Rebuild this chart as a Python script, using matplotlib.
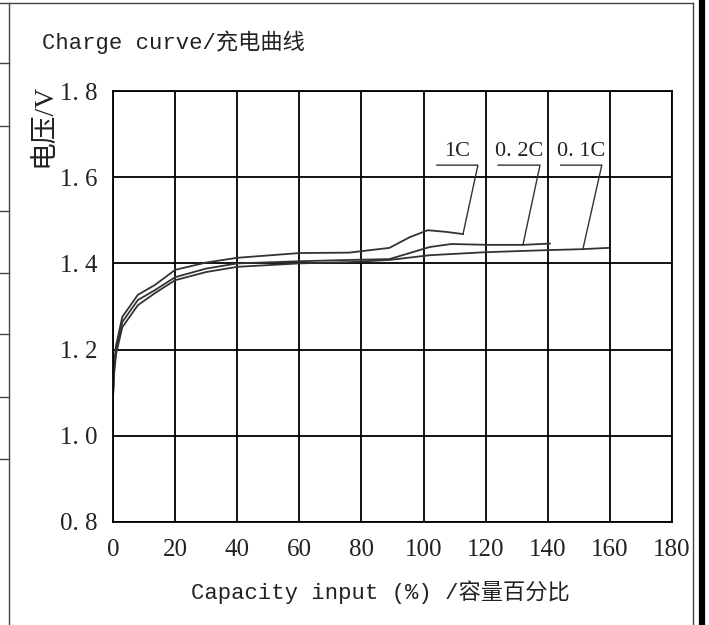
import matplotlib.pyplot as plt
from matplotlib.lines import Line2D

# capacity input (%) and voltage (V)
cap_1c = [0, 0.3, 1, 3, 8, 13.5, 20, 30, 40, 60, 76, 89, 95.6, 101.4, 107.5, 112.7]
volt_1c = [1.09, 1.16, 1.21, 1.276, 1.327, 1.35, 1.385, 1.402, 1.413, 1.424, 1.425,
           1.436, 1.461, 1.477, 1.473, 1.468]

cap_02c = [0, 0.3, 1, 3, 8, 13.5, 20, 30, 40, 60, 76, 89, 102, 109, 121, 132, 140.7]
volt_02c = [1.09, 1.15, 1.2, 1.264, 1.315, 1.338, 1.368, 1.388, 1.40, 1.405, 1.408,
            1.41, 1.438, 1.445, 1.443, 1.443, 1.446]

cap_01c = [0, 0.3, 1, 3, 8, 13.5, 20, 30, 40, 60, 76, 89, 102, 120, 140.7, 151, 159.5]
volt_01c = [1.09, 1.14, 1.19, 1.252, 1.303, 1.331, 1.361, 1.38, 1.392, 1.40, 1.403,
            1.408, 1.419, 1.426, 1.431, 1.433, 1.436]

x_ticks = [0, 20, 40, 60, 80, 100, 120, 140, 160, 180]
y_ticks = [0.8, 1.0, 1.2, 1.4, 1.6, 1.8]
y_labels = ['0. 8', '1. 0', '1. 2', '1. 4', '1. 6', '1. 8']

# label text, underline start/end, curve end the leader points to
labels = ['1C', '0.2C', '0.1C']
label_text = ['1C', '0. 2C', '0. 1C']
line_start = [104.3, 124.0, 144.2]
line_end = [117.5, 137.5, 157.4]
tip_x = [112.7, 132.0, 151.3]
tip_y = [1.468, 1.443, 1.433]
under_y = 1.628

mono = ['Liberation Mono', 'Noto Sans CJK SC']
serif = ['Liberation Serif', 'Noto Sans CJK SC']

fig = plt.figure(figsize=(7.09, 6.25), dpi=100, facecolor='white')
ax = fig.add_axes([113 / 709, 1 - 522 / 625, (672 - 113) / 709, (522 - 91) / 625])

lc = '#333333'
ax.plot(cap_1c, volt_1c, color=lc, lw=1.3)
ax.plot(cap_02c, volt_02c, color=lc, lw=1.3)
ax.plot(cap_01c, volt_01c, color=lc, lw=1.3)

for i in range(len(labels)):
    ax.plot([line_start[i], line_end[i], tip_x[i]], [under_y, under_y, tip_y[i]],
            color=lc, lw=1.0)
    ax.text((line_start[i] + line_end[i]) / 2, under_y + 0.01, label_text[i],
            ha='center', va='bottom', fontsize=16, family=serif, color='#222222')

ax.set_xlim(0, 180)
ax.set_ylim(0.8, 1.8)
ax.set_xticks(x_ticks)
ax.set_yticks(y_ticks)
ax.set_yticklabels(y_labels)
ax.grid(True, color='black', lw=1.3)
ax.set_axisbelow(True)
for s in ax.spines.values():
    s.set_linewidth(1.3)
ax.tick_params(length=0, labelsize=18, colors='#222222')
ax.tick_params(axis='x', pad=12)
ax.tick_params(axis='y', pad=11)
for t in ax.get_xticklabels() + ax.get_yticklabels():
    t.set_family(serif)

fig.text(42 / 709, 1 - 42 / 625, 'Charge curve/充电曲线', ha='left', va='center',
         fontsize=16, family=mono, color='#222222')
fig.text(44 / 709, 1 - 125 / 625, '电压/V', ha='center', va='center', rotation=90,
         fontsize=20, family=serif, color='#222222')
fig.text(380 / 709, 1 - 592 / 625, 'Capacity input (%) /容量百分比', ha='center',
         va='center', fontsize=16, family=mono, color='#222222')

# page frame around the picture
W, H = 709, 625
def px_line(x0, y0, x1, y1, lw=1.0, color='#444444'):
    fig.add_artist(Line2D([x0 / W, x1 / W], [1 - y0 / H, 1 - y1 / H],
                          transform=fig.transFigure, color=color, lw=lw))

px_line(0, 3, 693, 3)
px_line(9, 3, 9, 625)
px_line(693, 3, 693, 625)
px_line(702, 0, 702, 625, lw=4.5, color='black')
for yy in [63, 126, 211, 273, 334, 397, 459]:
    px_line(0, yy, 9, yy)

fig.savefig('out.png', dpi=100, facecolor='white')
